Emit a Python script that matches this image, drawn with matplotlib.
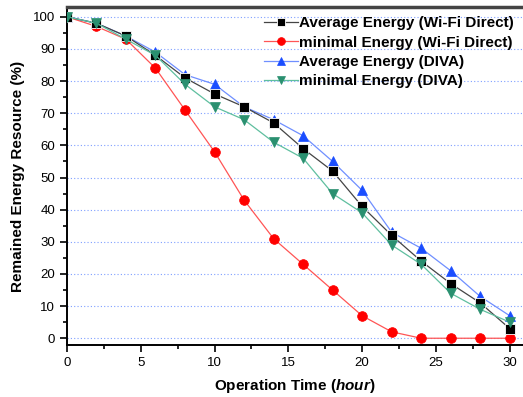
import matplotlib
matplotlib.use('Agg')
import matplotlib.pyplot as plt
from matplotlib.ticker import MultipleLocator

plt.rcParams['font.family'] = ['Liberation Sans', 'DejaVu Sans']
plt.rcParams['mathtext.fontset'] = 'custom'
plt.rcParams['mathtext.it'] = 'Liberation Sans:italic:bold'
plt.rcParams['mathtext.rm'] = 'Liberation Sans:bold'

hours = [0, 2, 4, 6, 8, 10, 12, 14, 16, 18, 20, 22, 24, 26, 28, 30]
avg_wifi = [100, 98, 94, 88, 81, 76, 72, 67, 59, 52, 41, 32, 24, 17, 11, 3]
min_wifi = [100, 97, 93, 84, 71, 58, 43, 31, 23, 15, 7, 2, 0, 0, 0, 0]
avg_diva = [100, 98, 94, 89, 82, 79, 72, 68, 63, 55, 46, 33, 28, 21, 13, 7]
min_diva = [100, 98, 93, 88, 79, 72, 68, 61, 56, 45, 39, 29, 23, 14, 9, 5]

fig = plt.figure(figsize=(5.23, 3.97), dpi=100)
ax = fig.add_axes([0.128, 0.131, 0.872, 0.851])

ax.plot(hours, avg_wifi, color='#444444', lw=0.9, marker='s', ms=6.5,
        mfc='black', mec='white', mew=0.6, label='Average Energy (Wi-Fi Direct)', zorder=4)
ax.plot(hours, min_wifi, color='#ff5555', lw=0.9, marker='o', ms=7,
        mfc='#ff0000', mec='#ff0000', mew=0.5, label='minimal Energy (Wi-Fi Direct)', zorder=3)
ax.plot(hours, avg_diva, color='#6f8fff', lw=0.9, marker='^', ms=7.5,
        mfc='#1a4dff', mec='#1a4dff', mew=0.5, label='Average Energy (DIVA)', zorder=2)
ax.plot(hours, min_diva, color='#5fbf9f', lw=0.9, marker='v', ms=7.5,
        mfc='#2a9070', mec='#2a9070', mew=0.5, label='minimal Energy (DIVA)', zorder=5)

ax.set_xlim(0, 30.9)
ax.set_ylim(-2.1, 103)
ax.xaxis.set_major_locator(MultipleLocator(5))
ax.xaxis.set_minor_locator(MultipleLocator(2.5))
ax.yaxis.set_major_locator(MultipleLocator(10))
ax.yaxis.set_minor_locator(MultipleLocator(5))
ax.tick_params(which='both', direction='out', width=1.2, labelsize=9.5)
ax.tick_params(which='major', length=5)
ax.tick_params(which='minor', length=3)
ax.tick_params(axis='x', which='both', top=False)
ax.tick_params(axis='y', which='both', right=False)

ax.grid(axis='y', which='major', color='#7f9fff', ls=(0, (1, 2)), lw=0.8)
ax.set_axisbelow(True)

ax.spines['left'].set_linewidth(1.4)
ax.spines['bottom'].set_linewidth(1.4)
ax.spines['top'].set_linewidth(2.5)
ax.spines['top'].set_color('#444444')
ax.spines['right'].set_visible(False)

ax.set_xlabel('Operation Time ($\\it{hour}$)', fontsize=11, fontweight='bold', labelpad=6)
ax.set_ylabel('Remained Energy Resource (%)', fontsize=11, fontweight='bold', labelpad=6)

leg = ax.legend(loc='upper right', bbox_to_anchor=(1.0, 1.0), frameon=False,
                prop={'weight': 'bold', 'size': 11}, handlelength=2.2,
                handletextpad=0.1, labelspacing=0.35, borderaxespad=0.2,
                markerscale=0.8)

fig.savefig('out.png', dpi=100)
